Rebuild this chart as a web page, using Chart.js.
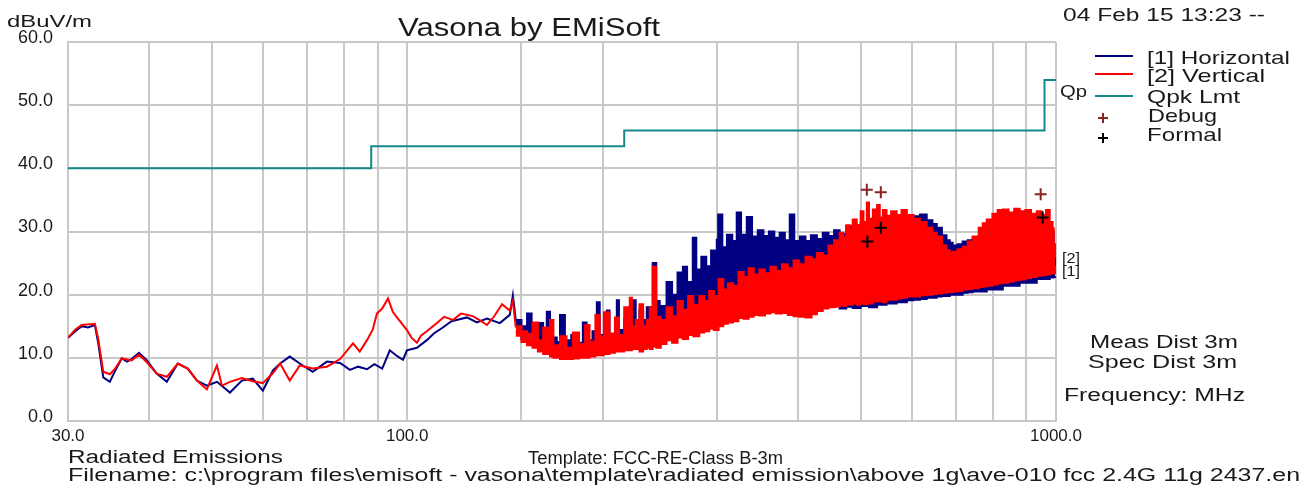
<!DOCTYPE html>
<html>
<head>
<meta charset="utf-8">
<script src="https://cdn.jsdelivr.net/npm/chart.js@4.4.1/dist/chart.umd.min.js"></script>
<style>
  html, body { margin: 0; padding: 0; background: #fff; }
  canvas { display: block; }
</style>
</head>
<body>
<canvas id="emission-chart" width="1311" height="491"></canvas>
<script>
// Horizontal trace, 30 - 147 MHz (MHz / dBuV/m)
const hzLowFreq = [30, 30.8, 31.5, 32.2, 33.0, 33.4, 34.0, 34.8, 35.4, 36.3, 37.0, 37.6, 38.6, 39.7, 41.1, 42.6, 44.3, 45.9, 47.4, 49.1, 50.9, 53.3, 55.6, 57.8, 59.9, 62.1, 63.7, 65.9, 68.3, 71.5, 75.2, 78.8, 81.6, 84, 86.7, 89, 91.5, 94, 96.4, 98.5, 99.9, 103.5, 107.2, 110, 113.5, 117, 123.6, 128, 132.7, 138.9, 143.9, 145.5, 147];
const hzLowLevel = [13.2, 14.2, 15.0, 14.8, 15.2, 12.3, 6.9, 6.2, 7.8, 9.9, 9.4, 9.8, 10.8, 9.6, 7.5, 6.2, 9.1, 8.3, 6.4, 5.6, 6.2, 4.5, 6.4, 6.7, 4.8, 8.0, 9.1, 10.2, 9.1, 7.8, 9.4, 9.2, 8.1, 8.6, 8.2, 9.0, 8.3, 11.2, 10.3, 9.7, 11.2, 11.6, 12.8, 13.9, 14.8, 15.8, 16.4, 15.6, 16.2, 15.5, 16.8, 19.9, 16.0];

// Vertical trace, 30 - 147 MHz
const vtLowFreq = [30, 30.8, 31.5, 33.0, 33.4, 34.0, 34.8, 35.4, 36.3, 37.6, 38.6, 39.7, 41.1, 42.6, 44.3, 45.9, 47.4, 49.1, 50.9, 51.8, 53.3, 55.6, 57.8, 59.9, 62.1, 63.7, 65.9, 68.3, 71.5, 75.2, 78.8, 82.5, 84.5, 86.7, 88.5, 89.8, 91.5, 93.4, 95, 96.4, 98, 99.9, 101.5, 103.5, 105, 107.2, 111.1, 114, 117.6, 121, 126.2, 130, 132.7, 136, 140, 143.9, 145.5, 147];
const vtLowLevel = [13.2, 14.5, 15.2, 15.4, 13.0, 7.8, 7.4, 8.2, 9.9, 9.6, 10.5, 9.3, 7.5, 7.0, 9.1, 8.3, 6.4, 5.0, 8.8, 5.6, 6.2, 6.8, 6.3, 6.0, 7.6, 9.1, 6.4, 8.8, 8.3, 8.6, 9.8, 12.3, 11.0, 12.8, 14.5, 17.0, 17.8, 19.4, 17.3, 16.4, 15.5, 14.4, 13.2, 12.4, 13.5, 14.2, 15.5, 16.5, 16.0, 17.0, 16.6, 15.8, 15.2, 16.5, 18.5, 17.5, 19.0, 14.8];

// Dense part of the horizontal sweep, 147 - 1000 MHz: band top and floor
const hzBandFreq = [147, 150, 153, 155.5, 159, 162, 164.1, 166, 170, 172, 175, 179, 183, 186.5, 189, 193, 196, 198, 203, 205, 210.4, 212, 216, 219, 222.7, 225, 228, 231, 234, 239, 242, 245, 251, 256, 261, 266, 270, 275.5, 279, 284, 289, 294, 300, 301.5, 306, 311, 317, 322, 327, 333.7, 340, 347, 354, 361, 368, 375, 382, 388.7, 395, 403, 411, 419, 428, 437, 446, 455, 464, 475, 486, 500, 515, 530, 548, 568, 589, 603, 617, 632, 645, 655, 667, 678, 686, 693, 705, 718, 731, 744, 782, 828, 879, 934, 978, 992, 997];
const hzTop = [16.0, 15.0, 17.0, 14.0, 15.5, 13.0, 17.3, 13.2, 12.5, 16.8, 12.8, 13.6, 12.4, 15.6, 12.8, 14.2, 18.8, 13.6, 17.5, 13.8, 19.1, 14.4, 16.2, 14.6, 19.1, 15.5, 17.5, 16.0, 18.0, 25.0, 19.0, 18.2, 22.0, 20.0, 23.5, 24.4, 22.0, 29.0, 24.0, 26.0, 24.5, 27.0, 28.7, 32.7, 27.5, 29.5, 28.5, 33.0, 29.5, 32.3, 29.2, 30.2, 29.3, 30.0, 29.0, 29.8, 28.6, 32.7, 28.5, 29.2, 28.5, 29.4, 28.8, 29.8, 29.3, 30.2, 29.6, 30.8, 31.0, 31.4, 31.2, 31.6, 31.9, 32.2, 32.5, 32.4, 32.7, 31.8, 31.2, 30.6, 29.4, 28.6, 28.2, 27.8, 28.0, 28.4, 28.6, 29.0, 30.0, 31.0, 31.5, 31.5, 30.0, 27.0, 23.6];
const hzFloor = [14.0, 13.0, 12.5, 12.0, 11.8, 11.5, 11.4, 11.2, 11.0, 11.0, 10.8, 10.8, 10.8, 10.8, 11.0, 11.0, 11.2, 11.2, 11.4, 11.6, 11.6, 11.8, 11.8, 11.9, 11.9, 12.0, 11.8, 12.0, 12.2, 12.4, 12.4, 12.8, 13.4, 13.2, 13.8, 13.8, 14.2, 14.2, 14.4, 14.6, 14.8, 15.2, 15.4, 15.6, 16.0, 16.2, 16.4, 16.8, 16.9, 17.0, 17.4, 17.4, 17.6, 17.8, 17.8, 17.8, 17.6, 17.4, 17.2, 17.1, 17.0, 17.4, 18.0, 18.4, 18.6, 18.7, 17.8, 18.1, 17.9, 18.2, 18.0, 18.4, 18.6, 18.8, 19.1, 19.2, 19.3, 19.5, 19.5, 19.7, 19.8, 19.8, 20.0, 20.0, 20.0, 20.3, 20.4, 20.5, 20.8, 21.4, 21.9, 22.5, 22.7, 22.8, 22.9];

// Dense part of the vertical sweep, 147 - 1000 MHz
const vtBandFreq = [147, 150, 153, 156, 159, 162, 166, 168, 172, 176, 180, 184, 188, 191, 195, 198, 201, 205, 209, 212, 216, 220.3, 222, 225, 228, 231, 234, 236.5, 239, 242, 246, 251, 256, 261, 266, 271, 276, 282, 287, 292, 297, 302, 307, 312, 318, 324, 330, 336, 342, 349, 356, 363, 370, 378, 386, 394, 402, 411, 420, 428, 437, 446, 455, 464, 470, 475, 481, 486, 493, 500, 505, 511, 515, 522, 530, 535, 541, 548, 557, 568, 578, 589, 603, 617, 632, 645, 655, 667, 678, 686, 693, 705, 718, 731, 744, 760, 771, 782, 798, 813, 828, 845, 862, 879, 897, 915, 934, 950, 965, 978, 988, 992, 997];
const vtTop = [15.0, 14.2, 13.8, 15.6, 12.8, 14.8, 16.0, 12.0, 13.4, 11.6, 14.0, 12.2, 15.2, 12.6, 16.8, 13.4, 17.2, 13.8, 16.4, 13.6, 18.0, 19.5, 15.0, 16.0, 18.5, 15.0, 16.0, 18.0, 24.4, 16.5, 16.0, 18.0, 16.6, 19.0, 17.6, 19.8, 18.4, 19.8, 19.0, 20.6, 19.8, 22.5, 20.8, 21.8, 21.4, 23.6, 22.8, 24.2, 23.2, 24.0, 23.4, 24.4, 23.8, 24.8, 24.2, 25.4, 24.8, 26.0, 25.6, 26.6, 26.2, 27.8, 28.6, 29.8, 29.0, 31.0, 30.2, 31.9, 31.0, 33.2, 31.5, 34.6, 32.0, 33.5, 34.2, 32.2, 33.4, 32.5, 33.2, 32.6, 33.4, 32.6, 32.0, 31.5, 30.6, 29.8, 29.2, 27.8, 27.0, 26.6, 26.8, 27.2, 27.6, 28.4, 29.2, 30.6, 31.3, 31.9, 32.8, 33.4, 33.5, 33.0, 33.6, 33.2, 33.4, 32.8, 33.2, 32.6, 33.4, 31.5, 30.5, 28.0, 25.8];
const vtFloor = [13.5, 12.5, 12.0, 11.6, 11.0, 10.6, 10.2, 10.0, 9.8, 9.8, 9.9, 10.0, 10.0, 10.2, 10.4, 10.4, 10.6, 10.8, 11.0, 11.0, 11.2, 11.2, 11.4, 11.4, 11.0, 11.4, 11.6, 11.4, 11.8, 11.6, 12.2, 12.8, 12.4, 13.2, 13.0, 13.6, 13.4, 14.0, 14.2, 14.6, 14.4, 15.0, 15.4, 15.6, 15.8, 16.3, 16.2, 16.5, 16.8, 16.7, 17.0, 17.2, 17.0, 17.1, 16.8, 16.6, 16.5, 16.4, 16.9, 17.4, 17.8, 18.0, 18.1, 18.4, 18.2, 18.5, 18.4, 18.6, 18.4, 18.7, 18.5, 18.8, 18.6, 18.9, 18.9, 19.0, 18.8, 19.2, 19.2, 19.4, 19.5, 19.7, 19.7, 19.9, 20.0, 20.1, 20.2, 20.3, 20.4, 20.4, 20.5, 20.6, 20.8, 20.9, 21.0, 21.2, 21.3, 21.4, 21.6, 21.8, 21.9, 22.1, 22.3, 22.4, 22.6, 22.8, 23.0, 23.1, 23.2, 23.3, 23.4, 23.4, 24.6];

// FCC Class B quasi-peak limit at 3 m
const limitFreq = [30, 88, 216, 960, 1000];
const limitLevel = [40, 43.5, 46, 54, 54];

// Peak markers
const debugFreq = [511, 537, 947];
const debugLevel = [36.6, 36.2, 35.9];
const formalFreq = [512, 537, 954];
const formalLevel = [28.4, 30.6, 32.2];

const xLabels = [30, 100, 1000];

const navy = "#000080";
const red = "#ff0000";
const teal = "#13898a";
const gridGrey = "#c8c8c8";
const ink = "#1a1a1a";
const fontFamily = '"Liberation Sans", Arial, sans-serif';

const toPoints = (freqs, levels) => freqs.map((f, i) => ({ x: f, y: levels[i] }));

// Draws text with its left edge at x, squeezed or stretched to a given width
const drawText = (ctx, text, left, midY, size, width, color) => {
  ctx.save();
  ctx.font = `${size}px ${fontFamily}`;
  const measured = ctx.measureText(text).width;
  ctx.translate(left, midY + size * 0.36);
  ctx.scale(width / measured, 1);
  ctx.fillStyle = color || ink;
  ctx.textBaseline = "alphabetic";
  ctx.fillText(text, 0, 0);
  ctx.restore();
};

const drawCross = (ctx, x, y, size, color) => {
  ctx.save();
  ctx.strokeStyle = color;
  ctx.lineWidth = 2;
  ctx.beginPath();
  ctx.moveTo(x - size, y);
  ctx.lineTo(x + size, y);
  ctx.moveTo(x, y - size);
  ctx.lineTo(x, y + size);
  ctx.stroke();
  ctx.restore();
};

// Title, notes and legend around the plot
const annotations = {
  id: "annotations",
  afterDraw(chart) {
    const ctx = chart.ctx;
    drawText(ctx, "dBuV/m", 7, 21, 17, 85);
    drawText(ctx, "Vasona by EMiSoft", 398, 27, 25, 262);
    drawText(ctx, "04 Feb 15 13:23 --", 1063, 15, 18, 202);

    const legendLines = [
      { color: navy, y: 56 },
      { color: red, y: 74 },
      { color: teal, y: 96 },
    ];
    legendLines.forEach((item) => {
      ctx.save();
      ctx.strokeStyle = item.color;
      ctx.lineWidth = 2;
      ctx.beginPath();
      ctx.moveTo(1095, item.y);
      ctx.lineTo(1133, item.y);
      ctx.stroke();
      ctx.restore();
    });
    drawCross(ctx, 1103, 118, 5, "#8b2323");
    drawCross(ctx, 1103, 138, 5, "#000");

    drawText(ctx, "[1] Horizontal", 1147, 57, 19, 143);
    drawText(ctx, "[2] Vertical", 1147, 75, 19, 118);
    drawText(ctx, "Qpk Lmt", 1147, 96, 19, 93);
    drawText(ctx, "Debug", 1148, 115, 19, 69);
    drawText(ctx, "Formal", 1147, 134, 19, 75);

    drawText(ctx, "Qp", 1060, 91, 17, 27);
    drawText(ctx, "[2]", 1062, 258, 14, 18);
    drawText(ctx, "[1]", 1062, 271, 14, 18);

    drawText(ctx, "Meas Dist 3m", 1090, 342, 18, 148);
    drawText(ctx, "Spec Dist 3m", 1088, 362, 18, 149);
    drawText(ctx, "Frequency: MHz", 1064, 395, 18, 181);

    drawText(ctx, "Radiated Emissions", 68, 457, 18, 215);
    drawText(ctx, "Template: FCC-RE-Class B-3m", 528, 458, 18, 255);
    drawText(
      ctx,
      "Filename: c:\\program files\\emisoft - vasona\\template\\radiated emission\\above 1g\\ave-010 fcc 2.4G 11g 2437.en",
      68, 475, 18, 1232
    );
  },
};

const lineStyle = (color, order) => ({
  borderColor: color,
  backgroundColor: color,
  borderWidth: 2,
  pointRadius: 0,
  tension: 0,
  order: order,
});

const datasets = [
  { label: "Qpk Lmt", data: toPoints(limitFreq, limitLevel), stepped: "before", ...lineStyle(teal, 1) },
  {
    label: "Debug",
    data: toPoints(debugFreq, debugLevel),
    type: "scatter",
    pointStyle: "cross",
    pointRadius: 6,
    borderWidth: 2,
    borderColor: "#8b2323",
    order: 0,
  },
  {
    label: "Formal",
    data: toPoints(formalFreq, formalLevel),
    type: "scatter",
    pointStyle: "cross",
    pointRadius: 6,
    borderWidth: 2,
    borderColor: "#000",
    order: 0,
  },
  { label: "[2] Vertical", data: toPoints(vtLowFreq, vtLowLevel), ...lineStyle(red, 2) },
  { label: "[2] Vertical band", data: toPoints(vtBandFreq, vtTop), fill: 5, stepped: "before", ...lineStyle(red, 2) },
  { label: "[2] Vertical floor", data: toPoints(vtBandFreq, vtFloor), fill: false, stepped: "before", ...lineStyle(red, 3) },
  { label: "[1] Horizontal", data: toPoints(hzLowFreq, hzLowLevel), ...lineStyle(navy, 4) },
  { label: "[1] Horizontal band", data: toPoints(hzBandFreq, hzTop), fill: 8, stepped: "before", ...lineStyle(navy, 4) },
  { label: "[1] Horizontal floor", data: toPoints(hzBandFreq, hzFloor), fill: false, stepped: "before", ...lineStyle(navy, 5) },
];

Chart.defaults.font.family = fontFamily;

new Chart(document.querySelector("#emission-chart"), {
  type: "line",
  data: { datasets: datasets },
  options: {
    responsive: false,
    animation: false,
    devicePixelRatio: 1,
    layout: { padding: { top: 42, right: 255, left: 0, bottom: 0 } },
    plugins: {
      legend: { display: false },
      title: { display: false },
      tooltip: { enabled: false },
    },
    scales: {
      x: {
        type: "logarithmic",
        min: 30,
        max: 1000,
        afterFit: (scale) => {
          scale.height = 70;
        },
        grid: { color: gridGrey, lineWidth: 2, drawTicks: false },
        border: { color: gridGrey, width: 2 },
        ticks: {
          autoSkip: false,
          maxRotation: 0,
          padding: 5,
          color: ink,
          font: { size: 17 },
          callback: (value) => (xLabels.includes(value) ? value.toFixed(1) : ""),
        },
      },
      y: {
        min: 0,
        max: 60,
        afterFit: (scale) => {
          scale.width = 68;
        },
        grid: { color: gridGrey, lineWidth: 2, drawTicks: false },
        border: { color: gridGrey, width: 2 },
        ticks: {
          stepSize: 10,
          padding: 15,
          labelOffset: -4,
          color: ink,
          font: { size: 18 },
          callback: (value) => value.toFixed(1),
        },
      },
    },
  },
  plugins: [annotations],
});
</script>
</body>
</html>
